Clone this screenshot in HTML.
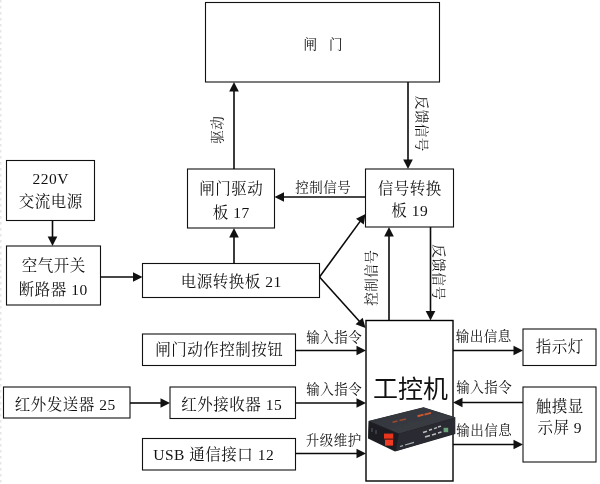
<!DOCTYPE html>
<html lang="zh-CN">
<head>
<meta charset="utf-8">
<title>闸门控制系统框图</title>
<style>
html,body{margin:0;padding:0;background:#fff;}
body{width:600px;height:484px;overflow:hidden;}
svg{display:block;}
text{fill:#111;font-weight:400;}
.tx{opacity:0.999;}
.bx{fill:#fff;stroke:#111;stroke-width:1.1;}
.ln{stroke:#0a0a0a;stroke-width:1.6;fill:none;}
.edge{stroke:#e6e6e6;stroke-width:2;stroke-dasharray:2.5 3.5;fill:none;}
.hd{fill:#111;stroke:none;}
</style>
</head>
<body>
<svg width="600" height="484" viewBox="0 0 600 484">
<rect x="0" y="0" width="600" height="484" fill="#fff"/>
<line class="edge" x1="0.5" y1="0" x2="0.5" y2="484"/>
<rect class="bx" x="205.5" y="2.5" width="234.0" height="79.5"/>
<rect class="bx" x="6.5" y="160.5" width="88.0" height="60.0"/>
<rect class="bx" x="187.5" y="169" width="87.0" height="59"/>
<rect class="bx" x="365.5" y="169" width="88.0" height="58"/>
<rect class="bx" x="6.5" y="246" width="94.0" height="59"/>
<rect class="bx" x="142.5" y="263.5" width="177.0" height="34.0"/>
<rect class="bx" x="142.5" y="334" width="153.0" height="31.5"/>
<rect class="bx" x="3.5" y="387" width="126.5" height="31"/>
<rect class="bx" x="170" y="387" width="125.5" height="31.5"/>
<rect class="bx" x="142.5" y="438.5" width="153.0" height="31.5"/>
<rect class="bx" x="366" y="320.5" width="87" height="160.5" style="stroke-width:1.4;stroke:#000"/>
<rect class="bx" x="523" y="329" width="73" height="36.5"/>
<rect class="bx" x="523" y="387" width="73" height="75"/>
<line class="ln" x1="52.5" y1="220.5" x2="52.50" y2="237.50"/><polygon class="hd" points="52.50,246.00 47.70,236.50 57.30,236.50"/>
<line class="ln" x1="100.5" y1="277" x2="134.00" y2="277.00"/><polygon class="hd" points="142.50,277.00 133.00,281.80 133.00,272.20"/>
<line class="ln" x1="234" y1="263.5" x2="234.00" y2="236.50"/><polygon class="hd" points="234.00,228.00 238.80,237.50 229.20,237.50"/>
<line class="ln" x1="234" y1="169" x2="234.00" y2="90.50"/><polygon class="hd" points="234.00,82.00 238.80,91.50 229.20,91.50"/>
<line class="ln" x1="408" y1="82" x2="408.00" y2="160.50"/><polygon class="hd" points="408.00,169.00 403.20,159.50 412.80,159.50"/>
<line class="ln" x1="365.5" y1="197" x2="283.00" y2="197.00"/><polygon class="hd" points="274.50,197.00 284.00,192.20 284.00,201.80"/>
<line class="ln" x1="319.5" y1="277" x2="360.49" y2="220.86"/><polygon class="hd" points="365.50,214.00 363.77,224.50 356.02,218.84"/>
<line class="ln" x1="319.5" y1="277" x2="359.81" y2="321.69"/><polygon class="hd" points="365.50,328.00 355.57,324.16 362.70,317.73"/>
<line class="ln" x1="389" y1="320.5" x2="389.00" y2="235.50"/><polygon class="hd" points="389.00,227.00 393.80,236.50 384.20,236.50"/>
<line class="ln" x1="430.5" y1="227" x2="430.50" y2="312.00"/><polygon class="hd" points="430.50,320.50 425.70,311.00 435.30,311.00"/>
<line class="ln" x1="295.5" y1="350.5" x2="357.50" y2="350.50"/><polygon class="hd" points="366.00,350.50 356.50,355.30 356.50,345.70"/>
<line class="ln" x1="295.5" y1="403" x2="357.50" y2="403.00"/><polygon class="hd" points="366.00,403.00 356.50,407.80 356.50,398.20"/>
<line class="ln" x1="295.5" y1="453.5" x2="357.50" y2="453.50"/><polygon class="hd" points="366.00,453.50 356.50,458.30 356.50,448.70"/>
<line class="ln" x1="130" y1="403" x2="161.50" y2="403.00"/><polygon class="hd" points="170.00,403.00 160.50,407.80 160.50,398.20"/>
<line class="ln" x1="453" y1="350.5" x2="514.50" y2="350.50"/><polygon class="hd" points="523.00,350.50 513.50,355.30 513.50,345.70"/>
<line class="ln" x1="523" y1="402.5" x2="461.50" y2="402.50"/><polygon class="hd" points="453.00,402.50 462.50,397.70 462.50,407.30"/>
<line class="ln" x1="453" y1="444.5" x2="514.50" y2="444.50"/><polygon class="hd" points="523.00,444.50 513.50,449.30 513.50,439.70"/>
<defs>
<filter id="soft" x="-5%" y="-5%" width="110%" height="110%"><feGaussianBlur stdDeviation="0.45"/></filter>
<linearGradient id="topg" x1="0" y1="0" x2="1" y2="1"><stop offset="0" stop-color="#30333a"/><stop offset="1" stop-color="#3c3f46"/></linearGradient>
</defs>
<g filter="url(#soft)">
<polygon points="368.5,421 423.5,407.3 455.3,417.3 455.3,434 395,451.5 368,438.5" fill="#232528"/>
<polygon points="369,421 423.5,407.5 455,417.5 399,433.5" fill="url(#topg)"/>
<polygon points="369,421.5 399,434 395.5,451 368.5,438" fill="#1d1f22"/>
<polygon points="399,434 455,418 455,433.5 396,451" fill="#2a2c30"/>
<rect x="384" y="433.6" width="9.2" height="5.2" fill="#e8341f"/>
<rect x="385" y="439.6" width="8" height="6" fill="#f03a22"/>
<rect x="384.5" y="438.6" width="9" height="1.1" fill="#7a1d12"/>
<path d="M392.5 422.3 l5 -1.3 M399.5 420.6 l6.5 -1.6" stroke="#9a4a2c" stroke-width="1.5" fill="none"/>
<path d="M417.5 416.2 l6 -1.6 M424.5 414.6 l6.5 -1.7" stroke="#c85a30" stroke-width="2" fill="none"/>
<rect x="443.6" y="427.8" width="4.6" height="4.4" fill="#6aa27a"/>
<path d="M423 432.5 l4 -1.2 M429 430.2 l3 -1 M434 428.6 l3 -1 M438 427 l3 -.9 M425 437 l5 -1.5 M432 435 l4 -1.2 M438 433 l3.5 -1" stroke="#b9bcc0" stroke-width="1.5" fill="none"/>
<path d="M400 446.5 l3 -.9 M405 445 l9 -2.6" stroke="#aab0b6" stroke-width="1.3" fill="none"/>
<path d="M372 428 l0 4 M376 430 l0 4" stroke="#55595e" stroke-width="1" fill="none"/>
</g>
<g class="tx">
<text x="323.25" y="48.80" font-size="13.5" letter-spacing="0.5" text-anchor="middle" style='font-family:"Liberation Serif", "Noto Serif CJK SC", serif;' xml:space="preserve" word-spacing="7.5">闸 门</text>
<text x="50.75" y="183.80" font-size="15.5" letter-spacing="0.5" text-anchor="middle" style='font-family:"Liberation Serif", "Noto Serif CJK SC", serif;' xml:space="preserve" >220V</text>
<text x="50.75" y="207.30" font-size="15.5" letter-spacing="0.5" text-anchor="middle" style='font-family:"Liberation Serif", "Noto Serif CJK SC", serif;' xml:space="preserve" >交流电源</text>
<text x="231.25" y="193.80" font-size="15.5" letter-spacing="0.5" text-anchor="middle" style='font-family:"Liberation Serif", "Noto Serif CJK SC", serif;' xml:space="preserve" >闸门驱动</text>
<text x="231.25" y="217.80" font-size="15.5" letter-spacing="0.5" text-anchor="middle" style='font-family:"Liberation Serif", "Noto Serif CJK SC", serif;' xml:space="preserve" >板 17</text>
<text x="409.75" y="193.80" font-size="15.5" letter-spacing="0.5" text-anchor="middle" style='font-family:"Liberation Serif", "Noto Serif CJK SC", serif;' xml:space="preserve" >信号转换</text>
<text x="409.75" y="216.30" font-size="15.5" letter-spacing="0.5" text-anchor="middle" style='font-family:"Liberation Serif", "Noto Serif CJK SC", serif;' xml:space="preserve" >板 19</text>
<text x="53.75" y="270.80" font-size="15.5" letter-spacing="0.5" text-anchor="middle" style='font-family:"Liberation Serif", "Noto Serif CJK SC", serif;' xml:space="preserve" >空气开关</text>
<text x="53.25" y="294.80" font-size="15.5" letter-spacing="0.5" text-anchor="middle" style='font-family:"Liberation Serif", "Noto Serif CJK SC", serif;' xml:space="preserve" >断路器 10</text>
<text x="231.25" y="286.80" font-size="15.5" letter-spacing="0.5" text-anchor="middle" style='font-family:"Liberation Serif", "Noto Serif CJK SC", serif;' xml:space="preserve" >电源转换板 21</text>
<text x="219.25" y="354.80" font-size="15.5" letter-spacing="0.5" text-anchor="middle" style='font-family:"Liberation Serif", "Noto Serif CJK SC", serif;' xml:space="preserve" >闸门动作控制按钮</text>
<text x="65.25" y="409.80" font-size="15.5" letter-spacing="0.5" text-anchor="middle" style='font-family:"Liberation Serif", "Noto Serif CJK SC", serif;' xml:space="preserve" >红外发送器 25</text>
<text x="231.75" y="409.80" font-size="15.5" letter-spacing="0.5" text-anchor="middle" style='font-family:"Liberation Serif", "Noto Serif CJK SC", serif;' xml:space="preserve" >红外接收器 15</text>
<text x="213.75" y="459.80" font-size="15.5" letter-spacing="0.5" text-anchor="middle" style='font-family:"Liberation Serif", "Noto Serif CJK SC", serif;' xml:space="preserve" >USB 通信接口 12</text>
<text x="559.75" y="351.80" font-size="15.5" letter-spacing="0.5" text-anchor="middle" style='font-family:"Liberation Serif", "Noto Serif CJK SC", serif;' xml:space="preserve" >指示灯</text>
<text x="559.75" y="411.80" font-size="15.5" letter-spacing="0.5" text-anchor="middle" style='font-family:"Liberation Serif", "Noto Serif CJK SC", serif;' xml:space="preserve" >触摸显</text>
<text x="559.75" y="433.30" font-size="15.5" letter-spacing="0.5" text-anchor="middle" style='font-family:"Liberation Serif", "Noto Serif CJK SC", serif;' xml:space="preserve" >示屏 9</text>
<text x="410.5" y="398.00" font-size="25" letter-spacing="0" text-anchor="middle" style='font-family:"Liberation Sans", "Noto Sans CJK SC", sans-serif;' xml:space="preserve" >工控机</text>
<text x="323.25" y="191.80" font-size="13.5" letter-spacing="0.5" text-anchor="middle" style='font-family:"Liberation Serif", "Noto Serif CJK SC", serif;' xml:space="preserve" >控制信号</text>
<text x="334.25" y="341.80" font-size="13.5" letter-spacing="0.5" text-anchor="middle" style='font-family:"Liberation Serif", "Noto Serif CJK SC", serif;' xml:space="preserve" >输入指令</text>
<text x="334.25" y="393.80" font-size="13.5" letter-spacing="0.5" text-anchor="middle" style='font-family:"Liberation Serif", "Noto Serif CJK SC", serif;' xml:space="preserve" >输入指令</text>
<text x="333.75" y="444.80" font-size="13.5" letter-spacing="0.5" text-anchor="middle" style='font-family:"Liberation Serif", "Noto Serif CJK SC", serif;' xml:space="preserve" >升级维护</text>
<text x="483.75" y="340.80" font-size="13.5" letter-spacing="0.5" text-anchor="middle" style='font-family:"Liberation Serif", "Noto Serif CJK SC", serif;' xml:space="preserve" >输出信息</text>
<text x="484.25" y="392.30" font-size="13.5" letter-spacing="0.5" text-anchor="middle" style='font-family:"Liberation Serif", "Noto Serif CJK SC", serif;' xml:space="preserve" >输入指令</text>
<text x="484.25" y="434.80" font-size="13.5" letter-spacing="0.5" text-anchor="middle" style='font-family:"Liberation Serif", "Noto Serif CJK SC", serif;' xml:space="preserve" >输出信息</text>
<text x="217.25" y="130" font-size="13.5" letter-spacing="0.5" text-anchor="middle" dominant-baseline="central" transform="rotate(-90 217 130)" style='font-family:"Liberation Serif", "Noto Serif CJK SC", serif;'>驱动</text>
<text x="421.75" y="123.5" font-size="13.5" letter-spacing="0.5" text-anchor="middle" dominant-baseline="central" transform="rotate(90 421.5 123.5)" style='font-family:"Liberation Serif", "Noto Serif CJK SC", serif;'>反馈信号</text>
<text x="371.75" y="278" font-size="13.5" letter-spacing="0.5" text-anchor="middle" dominant-baseline="central" transform="rotate(-90 371.5 278)" style='font-family:"Liberation Serif", "Noto Serif CJK SC", serif;'>控制信号</text>
<text x="438.75" y="272" font-size="13.5" letter-spacing="0.5" text-anchor="middle" dominant-baseline="central" transform="rotate(90 438.5 272)" style='font-family:"Liberation Serif", "Noto Serif CJK SC", serif;'>反馈信号</text>
</g>
</svg>
</body>
</html>
